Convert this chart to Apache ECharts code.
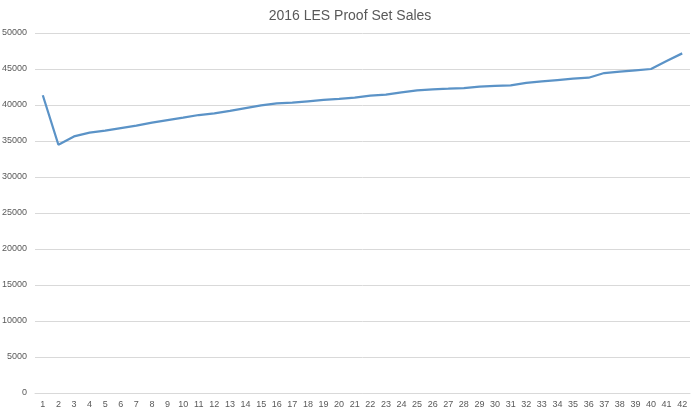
<!DOCTYPE html>
<html>
<head>
<meta charset="utf-8">
<script src="https://cdn.jsdelivr.net/npm/echarts@6/dist/echarts.min.js"></script>
<style>
  html, body { margin: 0; padding: 0; background: #fff; }
  #chart { width: 700px; height: 414px; }
</style>
</head>
<body>
<div id="chart"></div>
<script>
const chartTitle = '2016 LES Proof Set Sales'
const days = []
for (let i = 1; i <= 42; i++) days.push(String(i))
const sales = [
  41350, 34480, 35640, 36150, 36430, 36800, 37130, 37540, 37910, 38240,
  38610, 38840, 39170, 39580, 39950, 40230, 40320, 40510, 40700, 40840,
  41020, 41290, 41430, 41760, 42030, 42170, 42260, 42360, 42550, 42640,
  42730, 43060, 43280, 43470, 43660, 43790, 44440, 44630, 44820, 45000,
  46100, 47170
]

const font = 'Liberation Sans, Arial, sans-serif'
const chart = echarts.init(document.getElementById('chart'))
chart.setOption({
  animation: false,
  title: {
    text: chartTitle,
    left: 'center',
    top: 4,
    textStyle: { fontFamily: font, fontSize: 14, fontWeight: 'normal', color: '#595959' }
  },
  grid: { left: 35, right: 10, top: 33, bottom: 21, containLabel: false, outerBoundsMode: 'none' },
  xAxis: {
    type: 'category',
    data: days,
    boundaryGap: true,
    axisLine: { lineStyle: { color: '#d9d9d9' } },
    axisTick: { show: false },
    axisLabel: { fontFamily: font, fontSize: 9, color: '#595959', interval: 0, margin: 7 }
  },
  yAxis: {
    type: 'value',
    min: 0,
    max: 50000,
    interval: 5000,
    axisLine: { show: false },
    axisTick: { show: false },
    axisLabel: { fontFamily: font, fontSize: 9, color: '#595959', margin: 8, formatter: v => String(v) },
    splitLine: { lineStyle: { color: '#d9d9d9' } }
  },
  series: [{
    type: 'line',
    data: sales,
    symbol: 'none',
    lineStyle: { color: '#5b93c7', width: 2.25 }
  }]
})
</script>
</body>
</html>
